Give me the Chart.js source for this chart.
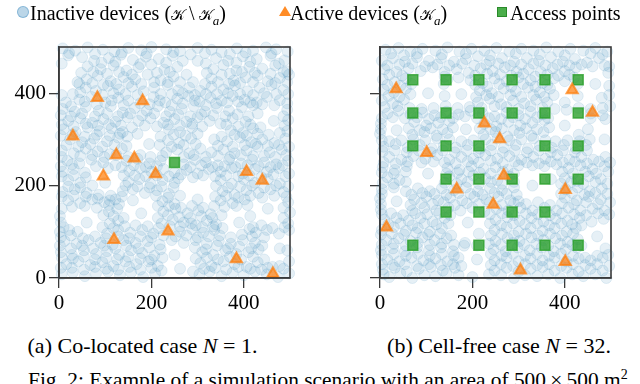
<!DOCTYPE html>
<html><head><meta charset="utf-8">
<script src="https://cdn.jsdelivr.net/npm/chart.js@4.4.1/dist/chart.umd.min.js"></script>
<style>
html,body{margin:0;padding:0;background:#fff;width:640px;height:384px;overflow:hidden;position:relative;font-family:"Liberation Serif","DejaVu Serif",serif;color:#000}
canvas{position:absolute}
.t{position:absolute;white-space:nowrap;font-size:20px;line-height:20px}
.c{position:absolute;white-space:nowrap;font-size:22px;line-height:22px}
.cal{font-family:"DejaVu Serif","DejaVu Sans","Noto Sans",serif;font-style:normal;font-size:14.5px}
.mk{position:absolute;box-sizing:border-box}
</style></head><body>
<canvas id="cA" width="300" height="330" style="left:0;top:0"></canvas>
<canvas id="cB" width="300" height="330" style="left:321px;top:0"></canvas>

<div class="mk" style="left:17px;top:6px;width:12px;height:12px;border-radius:50%;background:rgba(31,119,180,0.3);border:1px solid rgba(31,119,180,0.35)"></div>
<div class="t" style="left:30px;top:3px">Inactive devices (<span class="cal">𝒦</span>&thinsp;\&thinsp;<span class="cal">𝒦</span><sub style="font-size:13px;line-height:0"><i>a</i></sub>)</div>
<div class="mk" style="left:279px;top:6px;width:0;height:0;border-left:6px solid transparent;border-right:6px solid transparent;border-bottom:10px solid rgba(255,127,14,0.9)"></div>
<div class="t" style="left:290px;top:3px">Active devices (<span class="cal">𝒦</span><sub style="font-size:13px;line-height:0"><i>a</i></sub>)</div>
<div class="mk" style="left:497px;top:7px;width:10px;height:10px;background:rgba(44,160,44,0.85);border:1.5px solid #2a8a2a"></div>
<div class="t" style="left:510px;top:3px">Access points</div>

<div class="c" style="left:0;width:285px;text-align:center;top:335px">(a) Co-located case <i>N</i> = 1.</div>
<div class="c" style="left:356px;width:286px;text-align:center;top:335px">(b) Cell-free case <i>N</i> = 32.</div>
<div class="c" style="left:28px;top:369px;font-size:21.4px">Fig. 2: Example of a simulation scenario with an area of 500&thinsp;×&thinsp;500 m<sup style="font-size:14px;line-height:0">2</sup></div>

<script>
// ---- data ----
const tickValues = [0, 200, 400];

const activeA = [[83,390],[181,383],[30,307],[124,266],[163,259],[96,220],[209,225],[406,230],[440,211],[236,101],[119,83],[384,41],[463,9]];
const apsA = [[250,250]];
const inactiveA = [
[8,497],[35,492],[62,499],[95,494],[120,490],[150,498],[178,493],[200,500],[232,495],[262,491],[300,498],[330,494],[352,489],[385,497],[420,492],[448,499],[470,495],[495,490],
[22,487],[78,485],[136,488],[190,486],[248,489],[285,484],[316,487],[370,485],[404,488],[460,486],
[20,482],[50,478],[76,470],[108,476],[134,483],[160,472],[188,479],[216,474],[246,481],[340,476],[366,470],[398,480],[428,474],[458,481],[488,471],
[6,464],[92,466],[122,468],[176,463],[232,466],[268,470],[318,464],[384,466],[414,468],[476,464],[300,470],
[62,458],[90,452],[118,460],[146,449],[172,456],[200,462],[228,451],[256,457],[334,452],[356,461],[384,449],[412,457],[440,453],[468,460],[494,447],
[48,444],[74,446],[104,442],[130,446],[158,440],[212,444],[240,446],[276,440],[320,444],[370,442],[396,446],[424,444],[458,442],[486,446],
[60,430],[84,438],[112,426],[140,435],[165,430],[192,440],[220,428],[248,436],[262,424],[330,432],[352,440],[378,427],[404,434],[430,438],[452,426],[478,433],[498,440],
[40,424],[44,420],[72,422],[96,418],[124,420],[150,422],[178,420],[206,424],[236,424],[290,424],[316,420],[344,424],[368,420],[392,422],[420,424],[468,422],[494,424],
[6,396],[30,398],[58,412],[80,405],[106,416],[130,408],[158,414],[183,404],[206,412],[235,418],[258,406],[282,412],[306,405],[330,414],[356,408],[381,417],[408,404],[434,412],[460,418],[486,407],
[46,402],[94,396],[118,400],[144,398],[170,396],[220,398],[244,398],[268,400],[294,396],[318,398],[342,398],[366,400],[392,398],[420,396],[444,400],[470,398],[496,398],
[15,380],[44,386],[70,392],[100,380],[128,390],[150,384],[205,392],[230,380],[256,388],[280,394],[304,382],[328,390],[352,384],[376,394],[402,386],[428,380],[450,392],[478,385],
[26,372],[56,382],[82,376],[114,384],[140,374],[176,378],[196,376],[218,384],[244,374],[268,378],[294,384],[318,374],[340,378],[364,380],[388,382],[414,380],[440,376],[466,374],[494,378],
[8,366],[34,360],[58,370],[86,362],[112,372],[138,358],[164,368],[190,362],[214,372],[240,360],[266,366],[292,372],[316,360],[342,368],[368,362],[396,370],[420,374],[494,364],
[4,352],[26,350],[50,356],[78,350],[104,356],[128,350],[154,356],[180,352],[206,356],[232,350],[258,354],[284,350],[308,354],[334,352],[360,350],[386,354],[410,350],[430,356],[486,350],
[20,340],[46,346],[72,336],[96,344],[122,338],[148,348],[172,340],[198,346],[226,336],[250,344],[276,338],[300,348],[326,340],[350,334],[376,346],[404,338],[496,342],[465,340],
[6,332],[32,328],[58,334],[84,330],[108,332],[134,330],[158,326],[186,330],[212,328],[236,332],[262,330],[288,334],[310,328],[362,332],[388,328],[414,332],[436,326],[488,330],
[10,322],[36,316],[62,326],[88,318],[114,324],[138,316],[238,322],[262,316],[288,326],[372,320],[398,314],[420,324],[494,318],[170,312],
[4,308],[30,310],[56,306],[82,310],[110,308],[132,312],[148,306],[220,306],[248,310],[274,308],[300,312],[352,306],[380,310],[406,308],[430,312],[454,310],[478,314],[336,300],
[24,300],[50,294],[76,302],[104,296],[128,304],[236,298],[260,292],[286,302],[364,296],[392,304],[416,294],[440,300],[466,292],[490,302],[195,290],
[16,288],[42,284],[68,290],[94,284],[120,288],[146,286],[218,288],[244,284],[270,288],[296,290],[344,286],[376,284],[402,288],[426,290],[452,286],[476,288],[498,284],
[6,276],[32,270],[58,280],[84,274],[110,268],[136,280],[232,272],[256,278],[282,270],[306,280],[330,272],[356,278],[380,270],[406,276],[430,284],[456,272],[482,278],
[6,262],[46,264],[72,266],[98,262],[124,266],[150,262],[176,266],[198,262],[224,264],[270,262],[292,266],[318,262],[344,264],[370,262],[394,266],[420,264],[444,264],[468,262],[492,266],
[18,254],[44,248],[70,256],[96,250],[122,244],[146,254],[170,258],[196,248],[220,254],[270,246],[294,256],[318,250],[344,244],[368,256],[394,248],[418,256],[444,250],[470,246],[496,254],
[4,242],[28,246],[80,242],[106,238],[136,240],[162,244],[188,240],[212,242],[284,240],[308,244],[332,240],[358,242],[382,240],[408,244],[432,242],[458,240],[484,244],
[8,230],[32,236],[56,228],[152,232],[176,238],[200,230],[226,236],[250,228],[276,234],[300,226],[324,236],[350,230],[374,238],[398,226],[424,236],[450,230],[476,238],[498,226],
[6,220],[32,222],[58,218],[140,222],[164,222],[188,220],[212,222],[238,220],[264,224],[290,218],[312,222],[338,220],[362,222],[388,220],[412,222],[438,218],[464,224],[490,220],
[20,212],[46,206],[150,208],[174,214],[198,204],[224,212],[250,206],[258,216],[350,212],[374,204],[400,214],[424,206],[452,214],[478,204],[100,206],
[20,198],[46,196],[72,200],[144,200],[170,198],[196,196],[222,198],[248,196],[340,200],[366,196],[392,198],[418,200],[444,196],[470,200],[496,198],
[8,186],[34,192],[60,184],[86,180],[112,178],[138,188],[160,192],[186,184],[212,190],[238,182],[354,188],[380,180],[406,190],[432,184],[458,192],[486,186],
[6,176],[32,178],[58,176],[84,172],[110,168],[136,176],[210,178],[236,174],[262,178],[338,176],[362,178],[388,174],[414,178],[440,174],[466,178],[492,176],[300,170],
[20,168],[46,162],[72,170],[98,164],[122,170],[224,166],[250,160],[350,168],[376,162],[402,170],[496,164],[160,168],
[28,154],[56,156],[82,152],[108,158],[130,160],[214,156],[238,156],[264,152],[288,156],[312,152],[336,156],[358,154],[384,156],[408,158],[486,152],[452,150],
[6,150],[108,144],[126,150],[226,144],[252,150],[278,140],[302,146],[328,138],[500,142],[178,140],
[2,134],[96,136],[118,134],[140,130],[214,130],[236,136],[260,132],[284,130],[308,134],[332,130],[352,136],[414,134],[486,130],
[4,120],[110,118],[128,124],[222,118],[246,126],[270,120],[296,114],[320,124],[340,116],[420,110],[496,118],[60,120],[390,120],
[10,110],[22,104],[94,110],[118,108],[142,112],[166,114],[192,112],[216,108],[240,112],[262,112],[286,118],[310,110],[334,112],[354,108],[412,106],[438,114],[462,108],[488,110],
[2,100],[104,96],[128,104],[154,98],[180,104],[204,96],[262,100],[288,106],[312,98],[336,104],[426,98],[450,104],[476,96],[498,104],[40,100],
[4,88],[26,92],[52,86],[78,90],[102,86],[128,90],[152,86],[176,90],[200,88],[226,92],[252,90],[276,92],[300,88],[324,90],[348,92],[372,88],[396,94],[418,90],[444,88],
[12,80],[38,74],[64,82],[90,76],[116,72],[140,82],[166,76],[192,80],[218,72],[244,82],[270,76],[296,82],[320,74],[346,80],[372,74],[398,82],[424,76],
[2,70],[26,64],[50,70],[74,64],[98,70],[122,64],[146,70],[172,64],[196,66],[220,62],[294,66],[318,62],[342,70],[366,64],[390,68],[416,64],[440,70],[494,60],[478,64],
[4,56],[28,50],[54,60],[80,52],[104,58],[130,50],[156,60],[180,54],[206,48],[310,56],[334,50],[360,60],[384,52],[410,56],[432,62],[250,50],
[6,44],[30,42],[54,46],[78,40],[102,44],[126,40],[150,46],[176,42],[200,40],[224,44],[296,42],[320,44],[344,40],[370,46],[394,40],[420,46],[444,40],[498,36],
[16,30],[42,36],[68,28],[94,34],[118,26],[144,36],[168,30],[194,36],[214,26],[306,32],[330,26],[356,36],[380,30],[406,24],[430,34],[452,22],[478,26],
[4,22],[28,22],[54,18],[78,24],[102,20],[128,18],[152,24],[176,18],[200,22],[222,16],[290,14],[314,20],[338,22],[362,18],[388,24],[414,20],[438,18],[462,24],[486,20],[262,20],
[6,8],[30,12],[56,4],[80,10],[106,14],[132,6],[156,12],[182,2],[208,10],[304,8],[326,14],[352,4],[376,12],[400,6],[424,14],[450,8],[474,2],[498,10]
];

const activeB = [[35,409],[416,407],[460,358],[226,335],[259,301],[101,271],[268,222],[166,192],[401,191],[245,159],[14,110],[401,35],[304,17]];
const apsB = [
[71,429],[143,429],[214,429],[286,429],[357,429],[429,429],
[71,357],[143,357],[214,357],[286,357],[357,357],[429,357],
[71,286],[143,286],[214,286],[357,286],[429,286],
[143,214],[214,214],[286,214],[357,214],[429,214],
[143,143],[214,143],[286,143],[357,143],
[71,71],[214,71],[286,71],[357,71],[429,71]
];
const inactiveB = [
[12,494],[40,498],[66,490],[92,496],[120,492],[146,499],[172,490],[198,496],[226,492],[252,498],[280,490],[306,496],[332,492],[360,499],[386,490],[412,496],[440,492],[466,498],[492,490],
[24,486],[52,482],[80,486],[134,484],[186,486],[238,482],[294,486],[346,484],[400,482],[456,486],[482,484],
[4,470],[28,476],[54,468],[80,478],[106,470],[132,476],[160,468],[186,474],[212,480],[238,470],[264,476],[290,468],[318,476],[344,470],[370,478],[396,468],[422,474],[448,466],[474,476],
[16,460],[42,462],[70,464],[98,458],[124,462],[150,460],[178,464],[204,460],[230,462],[256,464],[282,460],[306,462],[332,464],[358,460],[384,462],[410,460],[436,462],[460,458],[486,460],
[10,452],[36,446],[62,454],[88,448],[114,456],[140,446],[166,452],[192,444],[218,454],[244,448],[270,456],[296,446],[322,452],[348,446],[374,454],[400,448],[424,456],[496,458],
[20,440],[48,438],[140,436],[206,438],[232,442],[260,440],[284,438],[310,442],[336,436],[362,440],[386,438],[410,440],[494,444],
[6,430],[32,424],[56,432],[146,430],[170,434],[196,428],[222,422],[248,432],[274,426],[300,434],[326,428],[352,422],[376,432],[400,426],[420,434],[466,420],
[16,418],[44,416],[68,420],[138,420],[206,418],[232,414],[258,420],[284,414],[310,420],[336,414],[362,418],[428,420],[496,416],
[8,408],[30,402],[56,410],[216,406],[242,400],[268,410],[294,404],[320,412],[346,402],[368,410],[104,400],[176,398],
[18,394],[42,392],[66,398],[140,394],[208,392],[230,396],[256,392],[282,396],[306,392],[332,396],[356,392],[376,396],[428,394],[496,396],[480,390],
[4,384],[28,378],[52,386],[212,380],[238,388],[262,376],[288,384],[312,378],[338,386],[362,380],[400,380],
[10,370],[38,372],[64,368],[90,366],[116,368],[142,372],[168,368],[194,370],[220,368],[248,372],[274,370],[300,366],[326,372],[352,368],[378,366],[404,364],[430,368],[456,366],[482,368],[498,372],
[16,356],[40,362],[66,354],[92,358],[118,352],[144,360],[170,354],[196,362],[222,356],[248,350],[274,358],[300,352],[326,360],[352,354],[456,356],[482,352],
[4,346],[28,348],[54,346],[80,348],[106,344],[132,348],[158,346],[184,350],[210,346],[236,346],[262,344],[288,348],[314,344],[340,348],[364,346],[456,346],[488,344],
[2,334],[74,338],[100,330],[126,336],[150,340],[226,334],[252,328],[278,338],[304,330],[330,336],[356,342],[400,330],
[2,322],[62,324],[86,320],[110,324],[136,322],[158,326],[216,324],[240,322],[264,324],[290,320],[316,324],[340,322],[366,326],[450,322],[186,322],[36,320],
[0,312],[70,310],[96,316],[122,308],[146,314],[224,310],[250,316],[276,306],[302,314],[328,308],[354,316],[430,310],
[4,298],[20,296],[46,298],[72,300],[98,298],[124,302],[150,300],[176,296],[202,298],[228,300],[254,302],[280,298],[306,300],[332,302],[358,298],[380,296],[406,298],[432,296],[454,300],[486,300],
[8,284],[34,290],[60,282],[86,288],[112,280],[138,286],[164,282],[190,288],[216,280],[242,288],[268,282],[294,288],[320,280],[346,286],[372,282],[398,288],[424,280],[446,288],
[6,274],[32,276],[58,272],[84,276],[110,272],[136,276],[162,272],[188,276],[214,272],[240,276],[266,272],[292,276],[318,272],[344,276],[370,272],[396,276],[422,272],[448,276],
[20,262],[46,256],[72,264],[98,258],[124,266],[150,256],[176,262],[202,258],[228,266],[254,258],[280,264],[306,256],[332,262],[358,258],[384,266],[410,256],[436,262],[462,256],[488,262],
[8,250],[34,248],[60,252],[90,250],[116,252],[140,250],[164,248],[190,252],[214,250],[240,254],[266,248],[292,252],[318,250],[344,248],[370,252],[396,250],[422,252],[448,248],[474,252],[498,250],
[6,240],[32,234],[58,242],[146,238],[172,234],[198,242],[224,236],[250,240],[276,234],[300,244],[330,244],[356,242],[382,246],[408,238],[434,244],[460,236],[486,242],
[4,228],[30,226],[56,230],[144,226],[168,228],[192,230],[216,228],[240,226],[266,230],[290,226],[394,230],[418,226],[444,230],[468,226],[494,230],[104,226],
[16,218],[42,212],[150,220],[176,214],[202,222],[228,216],[254,212],[280,220],[400,216],[426,210],[452,220],[478,214],[370,214],
[6,206],[30,204],[56,208],[140,206],[166,204],[190,208],[214,204],[240,208],[264,204],[290,208],[392,204],[414,208],[440,204],[466,208],[492,204],[330,200],
[4,192],[30,196],[56,188],[82,194],[108,188],[134,194],[160,190],[186,196],[212,188],[238,194],[264,190],[290,196],[402,192],[428,196],[454,188],[480,194],
[4,182],[68,180],[92,184],[118,182],[144,180],[170,184],[196,182],[222,180],[248,184],[274,182],[296,180],[392,182],[416,184],[442,180],[466,184],[492,182],
[0,172],[74,170],[100,176],[126,168],[152,174],[178,168],[204,176],[230,170],[256,176],[282,168],[300,166],[400,174],[426,168],[452,176],[478,170],[36,166],
[2,160],[66,158],[90,162],[114,160],[138,164],[162,158],[188,162],[214,160],[238,164],[264,158],[290,162],[316,160],[342,164],[368,158],[394,162],[420,160],[446,164],[472,160],[498,164],
[2,148],[70,146],[96,152],[122,146],[148,152],[174,146],[200,152],[226,144],[252,150],[278,146],[304,152],[330,146],[356,152],[382,146],[408,152],[434,146],[460,150],[486,146],
[4,138],[24,140],[50,136],[76,140],[102,138],[128,140],[152,136],[238,138],[264,140],[290,136],[316,140],[342,138],[368,136],[394,140],[420,138],[446,136],[472,140],[496,138],
[10,126],[36,130],[62,124],[88,130],[114,122],[140,130],[250,126],[276,132],[302,124],[328,130],[354,122],[380,128],[406,124],[432,130],[458,122],[484,128],[190,120],
[18,116],[44,118],[70,114],[96,118],[122,116],[148,118],[238,118],[262,114],[288,118],[314,116],[340,118],[366,114],[392,118],[416,116],[436,114],
[4,104],[30,110],[56,102],[82,108],[108,100],[134,108],[248,104],[274,110],[300,100],[326,108],[352,102],[378,108],[404,100],[424,108],[214,96],
[2,94],[26,96],[52,94],[78,98],[104,94],[130,96],[154,92],[240,92],[264,96],[290,92],[316,96],[342,92],[368,96],[394,92],[418,96],[470,90],
[14,82],[40,86],[66,80],[92,88],[118,82],[144,86],[250,80],[276,86],[302,80],[328,88],[354,82],[380,86],[406,78],[428,84],
[4,72],[30,74],[56,70],[82,76],[108,72],[134,74],[160,72],[184,76],[236,74],[262,72],[288,76],[312,72],[338,74],[364,70],[390,74],[416,72],[436,70],[488,64],
[2,60],[28,64],[54,58],[80,66],[106,60],[132,66],[158,58],[182,70],[210,70],[246,62],[272,58],[298,66],[324,60],[350,66],[376,58],[402,62],[426,66],
[4,50],[30,52],[56,48],[82,52],[108,48],[134,52],[160,48],[240,52],[264,48],[288,52],[314,48],[340,52],[366,48],[392,52],[418,48],[444,44],[470,48],[494,50],[210,40],
[16,40],[42,36],[68,44],[94,38],[120,42],[146,36],[170,44],[248,38],[274,44],[300,36],[326,42],[352,38],[378,44],[404,36],[430,42],[456,38],[482,44],
[4,30],[28,28],[54,30],[80,26],[106,30],[132,28],[158,30],[176,26],[240,28],[262,30],[288,26],[314,30],[340,28],[366,30],[392,26],[418,30],[444,28],[470,30],[496,26],
[6,18],[32,22],[58,14],[84,20],[110,24],[136,16],[162,22],[248,16],[274,22],[300,14],[326,20],[352,24],[378,16],[404,22],[430,14],[456,20],[482,16],
[8,8],[44,10],[96,6],[144,10],[170,6],[236,8],[262,6],[314,6],[364,8],[416,8],[466,8],
[20,2],[70,0],[120,4],[200,2],[290,0],[340,4],[390,0],[440,4],[490,0]
];

// ---- chart ----
const toXY = a => a.map(p => ({x: p[0], y: p[1]}));
const frame = {id: 'frame', afterDraw(c) {
  const a = c.chartArea, ctx = c.ctx;
  ctx.save(); ctx.strokeStyle = '#3a3a3a'; ctx.lineWidth = 1.6;
  ctx.strokeRect(a.left, a.top, a.right - a.left, a.bottom - a.top); ctx.restore();
}};
const tickFont = {family: 'Liberation Serif', size: 21};
function axis(isX, showLabels) {
  return {
    type: 'linear', min: 0, max: 500,
    afterBuildTicks: s => { s.ticks = tickValues.map(v => ({value: v})); },
    afterFit: s => { if (isX) s.height = 42; else s.width = 59; },
    grid: {drawOnChartArea: false, tickLength: 10, color: '#3a3a3a', lineWidth: 1.3},
    border: {display: true, color: '#3a3a3a', width: 1.6},
    ticks: {font: tickFont, color: showLabels ? '#000' : 'rgba(0,0,0,0)', padding: 3, maxRotation: 0, autoSkip: false}
  };
}
function makeChart(id, inactive, active, aps, showY) {
  new Chart(document.getElementById(id), {
    type: 'scatter',
    data: {datasets: [
      {data: toXY(active), pointStyle: 'triangle', pointRadius: 6.5, backgroundColor: 'rgba(255,127,14,0.72)', borderColor: 'rgba(255,127,14,0.72)', borderWidth: 2, order: 1, clip: false},
      {data: toXY(aps), pointStyle: 'rect', pointRadius: 7, backgroundColor: 'rgba(44,160,44,0.8)', borderColor: 'rgba(44,160,44,0.8)', borderWidth: 1.5, order: 2, clip: false},
      {data: toXY(inactive), pointStyle: 'circle', pointRadius: 5.5, backgroundColor: 'rgba(31,119,180,0.115)', borderColor: 'rgba(31,119,180,0.115)', borderWidth: 1, order: 3, clip: false}
    ]},
    options: {
      animation: false, responsive: false, devicePixelRatio: 1, events: [],
      layout: {padding: {left: 0, top: 47, right: 10, bottom: 10}},
      plugins: {legend: {display: false}, tooltip: {enabled: false}},
      scales: {x: axis(true, true), y: axis(false, showY)}
    },
    plugins: [frame]
  });
}
makeChart('cA', inactiveA, activeA, apsA, true);
makeChart('cB', inactiveB, activeB, apsB, false);
</script>
</body></html>
